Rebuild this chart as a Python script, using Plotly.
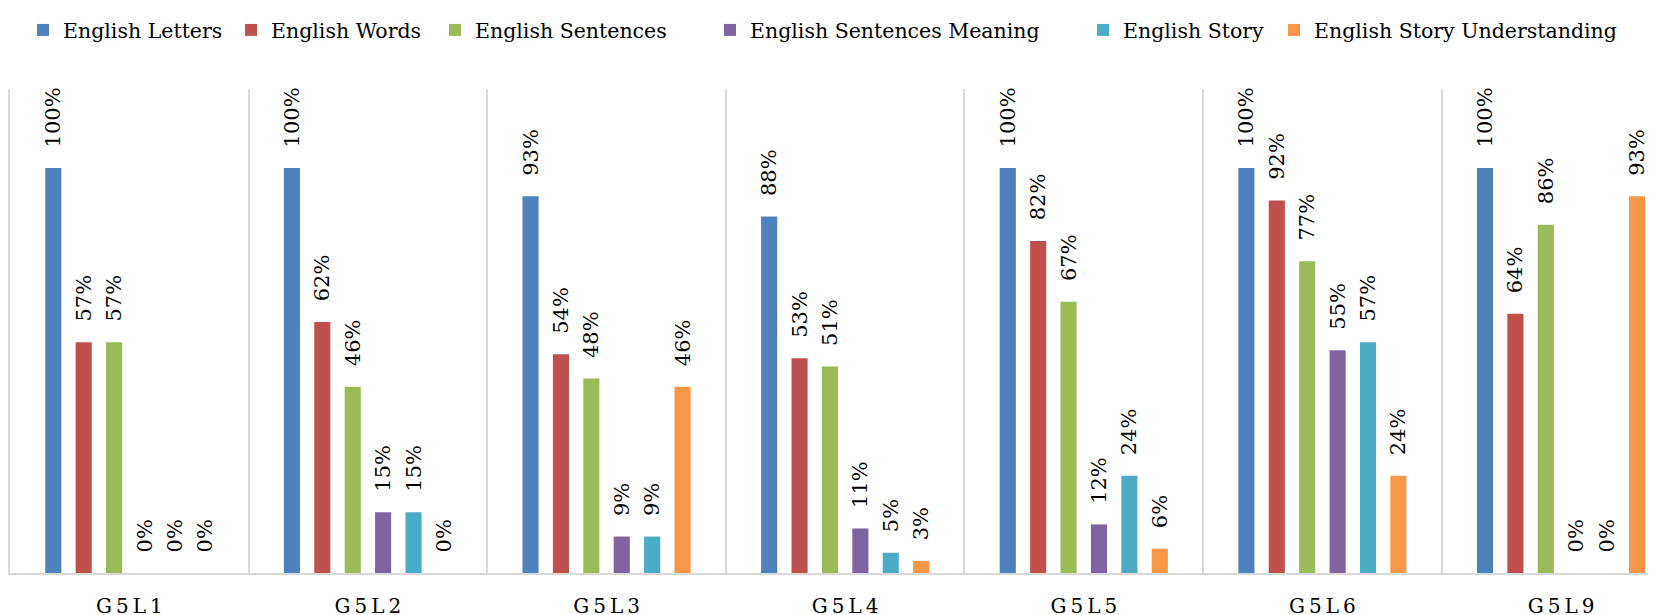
import plotly.graph_objects as go

categories = ["G5L1", "G5L2", "G5L3", "G5L4", "G5L5", "G5L6", "G5L9"]
tick_labels = ["G\u20095\u2009L\u20091", "G\u20095\u2009L\u20092", "G\u20095\u2009L\u20093",
               "G\u20095\u2009L\u20094", "G\u20095\u2009L\u20095", "G\u20095\u2009L\u20096",
               "G\u20095\u2009L\u20099"]

english_letters = [1.00, 1.00, 0.93, 0.88, 1.00, 1.00, 1.00]
english_words = [0.57, 0.62, 0.54, 0.53, 0.82, 0.92, 0.64]
english_sentences = [0.57, 0.46, 0.48, 0.51, 0.67, 0.77, 0.86]
english_sentences_meaning = [0.00, 0.15, 0.09, 0.11, 0.12, 0.55, 0.00]
english_story = [0.00, 0.15, 0.09, 0.05, 0.24, 0.57, 0.00]
english_story_understanding = [0.00, 0.00, 0.46, 0.03, 0.06, 0.24, 0.93]

series_names = ["English Letters", "English Words", "English Sentences",
                "English Sentences Meaning", "English Story", "English Story Understanding"]
series_values = [english_letters, english_words, english_sentences,
                 english_sentences_meaning, english_story, english_story_understanding]
colors = ["#4F81BD", "#C0504D", "#9BBB59", "#8064A2", "#4BACC6", "#F79646"]

# legend entry text start positions (px, page coordinates)
legend_text_x = [60, 268, 472, 747, 1120, 1311]

FONT = "DejaVu Serif"
PAGE_OFFSET = 8          # default body margin of the page
PLOT_LEFT = 2
PLOT_W = 1646

fig = go.Figure()
legend_layout = {}
for i, (name, vals, col) in enumerate(zip(series_names, series_values, colors)):
    lname = "legend" if i == 0 else f"legend{i + 1}"
    fig.add_trace(go.Bar(
        x=categories, y=vals, name=name, legend=lname,
        marker=dict(color=col, line=dict(width=0)),
        texttemplate="\u00a0\u00a0\u2009%{y:.0%}",
        textposition="outside", textangle=-90,
        textfont=dict(family=FONT, size=21, color="black"),
        constraintext="none", cliponaxis=False,
    ))
    lx = (legend_text_x[i] - 37 - PAGE_OFFSET - PLOT_LEFT) / PLOT_W
    legend_layout[lname] = dict(
        orientation="h", x=lx, xanchor="left", y=1.1217, yanchor="middle",
        font=dict(family=FONT, size=20.5, color="black"),
        bgcolor="rgba(0,0,0,0)", borderwidth=0,
    )

fig.update_layout(
    width=1656, height=615,
    margin=dict(l=PLOT_LEFT, r=8, t=72, b=50),
    paper_bgcolor="white", plot_bgcolor="white",
    barmode="group", bargap=0.2355, bargroupgap=0.47,
    font=dict(family=FONT, size=20, color="black"),
    showlegend=True,
    xaxis=dict(
        type="category", range=[-0.5, 6.398],
        tickmode="array", tickvals=categories, ticktext=tick_labels,
        tickson="boundaries", ticks="", showgrid=True, gridcolor="#D9D9D9", gridwidth=2,
        showline=True, linecolor="#D9D9D9", linewidth=2,
        tickfont=dict(family=FONT, size=20, color="black"),
        ticklabelstandoff=14, zeroline=False,
    ),
    yaxis=dict(range=[0, 1.195], showticklabels=False, showgrid=False, zeroline=False,
               showline=True, linecolor="#D9D9D9", linewidth=2, ticks=""),
    **legend_layout,
)

fig.write_html("out.html")
